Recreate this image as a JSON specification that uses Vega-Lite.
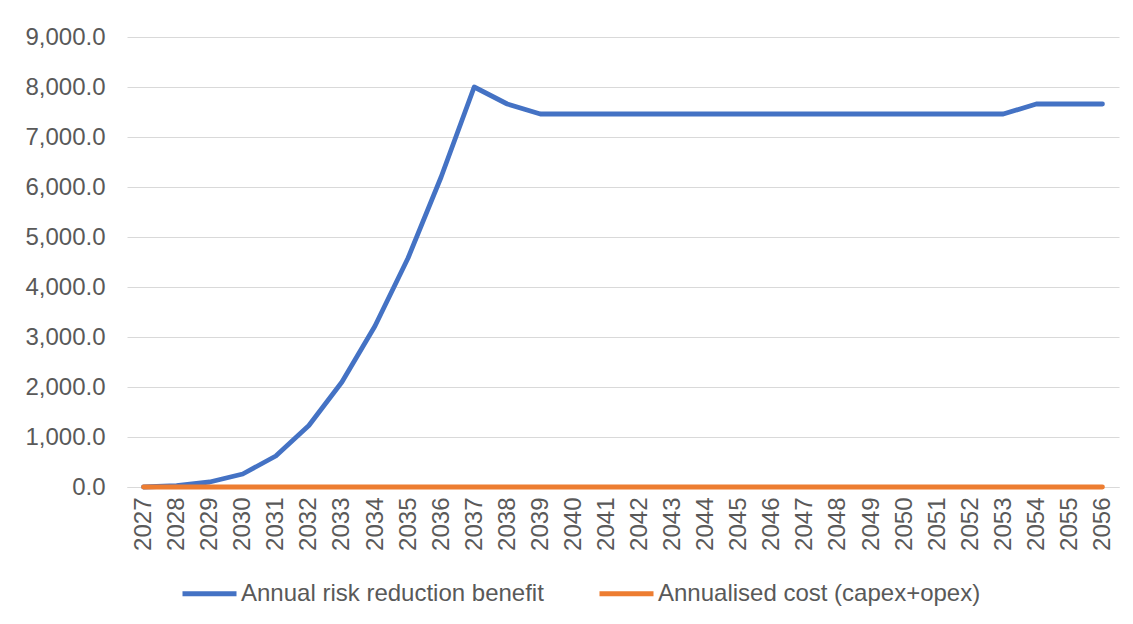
{
  "$schema": "https://vega.github.io/schema/vega-lite/v6.json",
  "width": 992,
  "height": 450,
  "autosize": {"type": "none"},
  "padding": {"left": 127, "top": 37, "right": 14, "bottom": 137},
  "background": "white",
  "config": {
    "font": "Liberation Sans",
    "view": {"stroke": null},
    "axis": {"labelColor": "#595959", "labelFontSize": 24, "labelFont": "Liberation Sans"},
    "legend": {"labelColor": "#595959", "labelFontSize": 24, "labelFont": "Liberation Sans"}
  },
  "data": {
    "values": [
      {"year": "2027", "series": "Annual risk reduction benefit", "value": 0},
      {"year": "2028", "series": "Annual risk reduction benefit", "value": 25},
      {"year": "2029", "series": "Annual risk reduction benefit", "value": 100},
      {"year": "2030", "series": "Annual risk reduction benefit", "value": 260},
      {"year": "2031", "series": "Annual risk reduction benefit", "value": 620},
      {"year": "2032", "series": "Annual risk reduction benefit", "value": 1230},
      {"year": "2033", "series": "Annual risk reduction benefit", "value": 2100},
      {"year": "2034", "series": "Annual risk reduction benefit", "value": 3220},
      {"year": "2035", "series": "Annual risk reduction benefit", "value": 4580},
      {"year": "2036", "series": "Annual risk reduction benefit", "value": 6200},
      {"year": "2037", "series": "Annual risk reduction benefit", "value": 8000},
      {"year": "2038", "series": "Annual risk reduction benefit", "value": 7660},
      {"year": "2039", "series": "Annual risk reduction benefit", "value": 7460},
      {"year": "2040", "series": "Annual risk reduction benefit", "value": 7460},
      {"year": "2041", "series": "Annual risk reduction benefit", "value": 7460},
      {"year": "2042", "series": "Annual risk reduction benefit", "value": 7460},
      {"year": "2043", "series": "Annual risk reduction benefit", "value": 7460},
      {"year": "2044", "series": "Annual risk reduction benefit", "value": 7460},
      {"year": "2045", "series": "Annual risk reduction benefit", "value": 7460},
      {"year": "2046", "series": "Annual risk reduction benefit", "value": 7460},
      {"year": "2047", "series": "Annual risk reduction benefit", "value": 7460},
      {"year": "2048", "series": "Annual risk reduction benefit", "value": 7460},
      {"year": "2049", "series": "Annual risk reduction benefit", "value": 7460},
      {"year": "2050", "series": "Annual risk reduction benefit", "value": 7460},
      {"year": "2051", "series": "Annual risk reduction benefit", "value": 7460},
      {"year": "2052", "series": "Annual risk reduction benefit", "value": 7460},
      {"year": "2053", "series": "Annual risk reduction benefit", "value": 7460},
      {"year": "2054", "series": "Annual risk reduction benefit", "value": 7660},
      {"year": "2055", "series": "Annual risk reduction benefit", "value": 7660},
      {"year": "2056", "series": "Annual risk reduction benefit", "value": 7660},
      {"year": "2027", "series": "Annualised cost (capex+opex)", "value": 0},
      {"year": "2028", "series": "Annualised cost (capex+opex)", "value": 0},
      {"year": "2029", "series": "Annualised cost (capex+opex)", "value": 0},
      {"year": "2030", "series": "Annualised cost (capex+opex)", "value": 0},
      {"year": "2031", "series": "Annualised cost (capex+opex)", "value": 0},
      {"year": "2032", "series": "Annualised cost (capex+opex)", "value": 0},
      {"year": "2033", "series": "Annualised cost (capex+opex)", "value": 0},
      {"year": "2034", "series": "Annualised cost (capex+opex)", "value": 0},
      {"year": "2035", "series": "Annualised cost (capex+opex)", "value": 0},
      {"year": "2036", "series": "Annualised cost (capex+opex)", "value": 0},
      {"year": "2037", "series": "Annualised cost (capex+opex)", "value": 0},
      {"year": "2038", "series": "Annualised cost (capex+opex)", "value": 0},
      {"year": "2039", "series": "Annualised cost (capex+opex)", "value": 0},
      {"year": "2040", "series": "Annualised cost (capex+opex)", "value": 0},
      {"year": "2041", "series": "Annualised cost (capex+opex)", "value": 0},
      {"year": "2042", "series": "Annualised cost (capex+opex)", "value": 0},
      {"year": "2043", "series": "Annualised cost (capex+opex)", "value": 0},
      {"year": "2044", "series": "Annualised cost (capex+opex)", "value": 0},
      {"year": "2045", "series": "Annualised cost (capex+opex)", "value": 0},
      {"year": "2046", "series": "Annualised cost (capex+opex)", "value": 0},
      {"year": "2047", "series": "Annualised cost (capex+opex)", "value": 0},
      {"year": "2048", "series": "Annualised cost (capex+opex)", "value": 0},
      {"year": "2049", "series": "Annualised cost (capex+opex)", "value": 0},
      {"year": "2050", "series": "Annualised cost (capex+opex)", "value": 0},
      {"year": "2051", "series": "Annualised cost (capex+opex)", "value": 0},
      {"year": "2052", "series": "Annualised cost (capex+opex)", "value": 0},
      {"year": "2053", "series": "Annualised cost (capex+opex)", "value": 0},
      {"year": "2054", "series": "Annualised cost (capex+opex)", "value": 0},
      {"year": "2055", "series": "Annualised cost (capex+opex)", "value": 0},
      {"year": "2056", "series": "Annualised cost (capex+opex)", "value": 0}
    ]
  },
  "mark": {"type": "line", "strokeWidth": 4.8, "strokeCap": "round", "strokeJoin": "round"},
  "encoding": {
    "x": {
      "field": "year",
      "type": "ordinal",
      "scale": {"type": "point", "padding": 0.5},
      "axis": {
        "title": null,
        "labelAngle": -90,
        "labelPadding": 10,
        "ticks": false,
        "tickSize": 0,
        "grid": false,
        "domainColor": "#D9D9D9",
        "domainWidth": 1
      }
    },
    "y": {
      "field": "value",
      "type": "quantitative",
      "scale": {"domain": [0, 9000], "nice": false},
      "axis": {
        "title": null,
        "format": ",.1f",
        "values": [0, 1000, 2000, 3000, 4000, 5000, 6000, 7000, 8000, 9000],
        "domain": false,
        "ticks": false,
        "tickSize": 0,
        "labelPadding": 22,
        "gridColor": "#D9D9D9",
        "gridWidth": 1
      }
    },
    "color": {
      "field": "series",
      "type": "nominal",
      "scale": {
        "domain": ["Annual risk reduction benefit", "Annualised cost (capex+opex)"],
        "range": ["#4472C4", "#ED7D31"]
      },
      "legend": {
        "title": null,
        "orient": "none",
        "legendX": 53,
        "legendY": 527,
        "direction": "horizontal",
        "symbolType": "stroke",
        "symbolSize": 2916,
        "symbolStrokeWidth": 5,
        "labelOffset": 2,
        "labelLimit": 0,
        "columnPadding": 45
      }
    }
  }
}
